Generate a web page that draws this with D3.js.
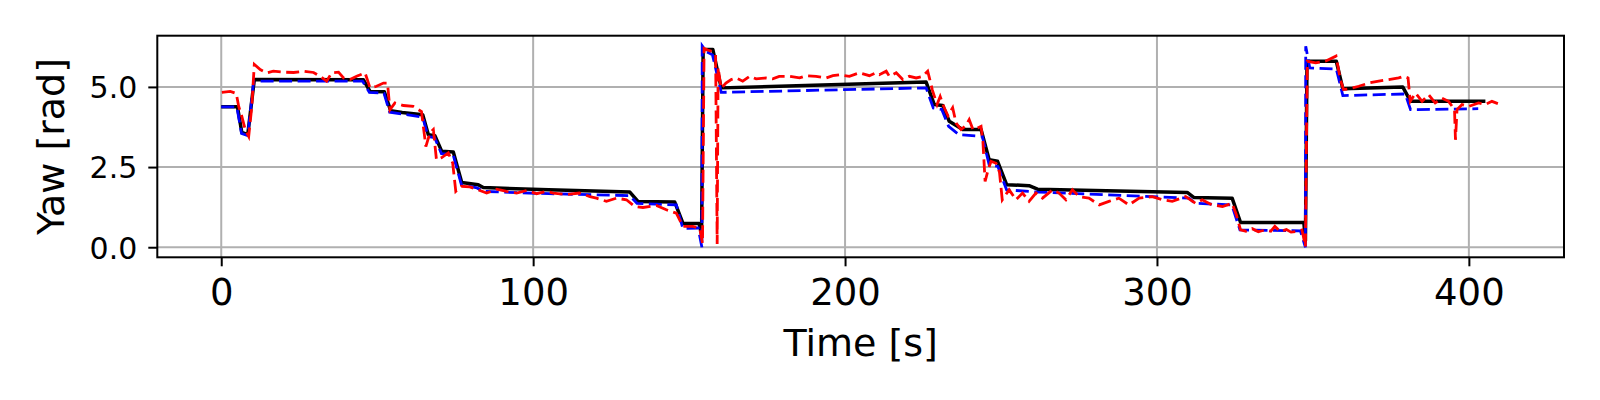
<!DOCTYPE html>
<html>
<head>
<meta charset="utf-8">
<script src="https://cdn.jsdelivr.net/npm/d3@7"></script>
<style>
  html, body { margin: 0; padding: 0; background: #fff; }
  svg { display: block; }
  text { font-family: "DejaVu Sans", sans-serif; fill: #000; }
</style>
</head>
<body>
<svg id="chart" width="1600" height="400"></svg>
<script>
// ---------- data (time [s], yaw [rad]) ----------
const xTicks = [0, 100, 200, 300, 400];
const yTicks = [0.0, 2.5, 5.0];
const xLabel = "Time [s]";
const yLabel = "Yaw [rad]";

// ground truth (black solid)
const truthT = [0,5.2,6.6,8.5,10.6,45.6,47.7,52.3,54.3,58,64.6,66.4,68.5,70.7,74.4,77.1,82.4,84,105,131,133.6,145.4,148,153.2,154.0,154.5,157.6,160.3,190,226,228.6,231.3,233.4,237.7,243.6,246.2,248.9,251.8,259,261.7,309.7,311.9,324.1,326.8,347.1,347.6,348.1,357.5,359.6,378.8,381.3,405.3];
const truthV = [4.38,4.38,3.58,3.51,5.23,5.22,4.86,4.85,4.26,4.2,4.13,3.51,3.48,2.99,2.97,2.02,1.95,1.86,1.79,1.72,1.43,1.41,0.75,0.74,0.40,6.17,6.17,4.97,5.05,5.15,4.45,4.42,3.93,3.67,3.67,2.73,2.68,1.95,1.92,1.81,1.71,1.55,1.53,0.77,0.77,0.2,5.8,5.8,4.94,5.0,4.55,4.55];

// estimate 1 (blue dashed)
const estT = [0,5.0,6.5,8.5,10.4,45.3,47.5,52.2,54.0,64.6,66.3,68.4,70.6,74.3,77.0,82,84,105,131,133.3,145.9,148,152.9,154.1,154.2,155.5,157.5,160.3,226,228.3,231,233.2,236.5,244,246.2,249,251.8,262,298.5,310.3,312.2,324.0,326.6,346,347.6,347.7,349,357.5,359.6,379.6,381.3,403];
const estV = [4.38,4.38,3.55,3.48,5.18,5.18,4.83,4.8,4.21,4.06,3.45,3.42,2.92,2.9,1.95,1.85,1.74,1.67,1.61,1.37,1.32,0.59,0.6,0.0,6.28,6.1,6.0,4.83,4.97,4.34,4.3,3.77,3.51,3.46,2.57,2.52,1.79,1.72,1.58,1.53,1.37,1.32,0.54,0.51,0.0,6.27,5.59,5.56,4.73,4.78,4.29,4.32];

// estimate 2 (red dashed, noisy)
const measT = [0.2,2.9,4.8,5.6,6.6,7.7,8.8,9.8,10.6,12.5,14.6,16.7,20,23.2,26.4,29.6,31.7,33.8,35.4,37.6,39.2,41.3,43.4,46.1,47.7,49.8,52.0,53.3,54.1,55.7,58.4,61.6,64.2,65.6,66.9,68.0,69.0,70.6,72.8,74.2,75.2,77.0,79.7,82.4,85.1,88.3,91.5,94.7,97.9,101.1,104.3,
  106.4,110.7,114.9,118.2,120.3,123.5,126.7,129.9,132.6,135.2,139.5,142.7,145.9,148.0,151.2,153.4,154.3,154.8,156,157.5,158.5,159.0,159.3,160.3,
  161.8,163.5,165.1,167.2,169.4,171.5,174.7,176.8,178.9,182.2,185.4,187.5,190.7,193.9,196.1,198.2,201.4,204.6,207.8,209.9,211.0,213.2,214.2,216.4,218.5,220.6,222.8,224.9,226.5,227.0,228.0,229.5,230.5,231.8,233,234.5,235.6,237.2,238.8,239.8,241,242.5,243.6,244.2,244.9,245.7,246.8,248.4,249.5,250.4,252.6,
  254.8,256.9,259.0,261.2,263.3,266.5,268.6,270.8,272.9,275.0,278.2,281.5,284.6,287.8,291.0,294.3,298.5,301.7,304.9,309.2,312.4,314.5,317.7,321.0,324.1,325.5,326.8,328.5,330.5,332.5,334.6,336.5,337.8,339.5,341.5,343,344.7,346.5,347.6,348.2,
  350.9,354.0,357.4,358.8,359.8,361.5,364.7,367.9,371.1,374.3,377.5,379.1,380.5,381.2,382.9,385.0,387.1,389.2,391.4,393.5,395.4,395.7,396.2,397.8,399.9,403.1,405.3,407.4,409.3];
const measV = [4.83,4.86,4.8,4.39,4.08,3.67,3.46,4.39,5.70,5.54,5.44,5.49,5.46,5.45,5.49,5.45,5.33,5.18,5.44,5.46,5.28,5.23,5.33,5.44,4.97,5.02,5.12,5.12,4.29,4.5,4.42,4.39,4.23,3.14,3.56,3.67,2.73,2.79,2.94,2.63,1.74,1.90,1.88,1.79,1.69,1.81,1.74,1.69,1.77,1.67,1.74,
  1.69,1.64,1.69,1.58,1.53,1.43,1.53,1.48,1.27,1.24,1.30,1.17,1.06,0.65,0.65,0.59,0.12,6.2,6.15,6.1,6.0,0.1,5.6,4.95,
  5.12,5.23,5.28,5.18,5.33,5.25,5.28,5.25,5.33,5.33,5.28,5.35,5.33,5.28,5.35,5.38,5.33,5.44,5.35,5.44,5.38,5.49,5.33,5.44,5.23,5.33,5.28,5.33,5.49,5.3,4.9,4.45,4.7,4.35,4.1,4.35,3.87,3.67,3.8,3.98,3.67,3.72,3.77,3.3,2.05,2.35,2.68,2.62,2.35,1.48,1.79,
  1.48,1.69,1.43,1.69,1.53,1.79,1.69,1.48,1.79,1.58,1.53,1.32,1.43,1.53,1.32,1.53,1.58,1.48,1.43,1.58,1.37,1.48,1.32,1.27,1.37,1.0,0.54,0.5,0.58,0.48,0.54,0.5,0.65,0.49,0.55,0.47,0.49,0.54,0.02,5.8,
  5.75,5.8,5.96,5.23,4.92,4.94,5.02,5.12,5.18,5.23,5.28,5.33,5.28,4.55,4.81,4.55,4.76,4.5,4.65,4.55,4.29,3.35,4.29,4.45,4.39,4.5,4.45,4.55,4.48];

// ---------- drawing ----------
const svg = d3.select("#chart");
const plot = { left: 157.3, right: 1564, top: 35.7, bottom: 257.3 };

const x = d3.scaleLinear().domain([-20.5, 430.5]).range([plot.left, plot.right]);
const y = d3.scaleLinear().domain([-0.3142, 6.5973]).range([plot.bottom, plot.top]);

// grid
const grid = svg.append("g");
grid.selectAll("line.gx").data(xTicks).enter().append("line")
  .attr("x1", d => x(d)).attr("x2", d => x(d))
  .attr("y1", plot.top).attr("y2", plot.bottom)
  .attr("stroke", "#b0b0b0").attr("stroke-width", 2);
grid.selectAll("line.gy").data(yTicks).enter().append("line")
  .attr("y1", d => y(d)).attr("y2", d => y(d))
  .attr("x1", plot.left).attr("x2", plot.right)
  .attr("stroke", "#b0b0b0").attr("stroke-width", 2);

// clip
svg.append("defs").append("clipPath").attr("id", "clip")
  .append("rect").attr("x", plot.left).attr("y", plot.top)
  .attr("width", plot.right - plot.left).attr("height", plot.bottom - plot.top);

const line = d3.line().x(d => x(d[0])).y(d => y(d[1]));
const zip = (a, b) => a.map((t, i) => [t, b[i]]);

const lines = svg.append("g").attr("clip-path", "url(#clip)");
lines.append("path").datum(zip(truthT, truthV)).attr("d", line)
  .attr("fill", "none").attr("stroke", "#000").attr("stroke-width", 3.5)
  .attr("stroke-linejoin", "round");
lines.append("path").datum(zip(estT, estV)).attr("d", line)
  .attr("fill", "none").attr("stroke", "#0000ff").attr("stroke-width", 2.8)
  .attr("stroke-dasharray", "13,5.5");
lines.append("path").datum(zip(measT, measV)).attr("d", line)
  .attr("fill", "none").attr("stroke", "#ff0000").attr("stroke-width", 2.8)
  .attr("stroke-dasharray", "13,5.5");

// axes
const xAxis = svg.append("g").attr("transform", `translate(0,${plot.bottom})`)
  .call(d3.axisBottom(x).tickValues(xTicks).tickSize(9).tickPadding(6).tickFormat(d3.format("d")));
xAxis.select(".domain").remove();
xAxis.selectAll(".tick line").attr("stroke", "#000").attr("stroke-width", 2);
xAxis.selectAll(".tick text").attr("font-size", 37).attr("font-family", "DejaVu Sans")
  .attr("dy", null).attr("y", 47.7);

const yAxis = svg.append("g").attr("transform", `translate(${plot.left},0)`)
  .call(d3.axisLeft(y).tickValues(yTicks).tickSize(9).tickPadding(11).tickFormat(d3.format(".1f")));
yAxis.select(".domain").remove();
yAxis.selectAll(".tick line").attr("stroke", "#000").attr("stroke-width", 2);
yAxis.selectAll(".tick text").attr("font-size", 30).attr("font-family", "DejaVu Sans")
  .attr("dy", "0.36em");

// frame
svg.append("rect").attr("x", plot.left).attr("y", plot.top)
  .attr("width", plot.right - plot.left).attr("height", plot.bottom - plot.top)
  .attr("fill", "none").attr("stroke", "#000").attr("stroke-width", 2);

// labels
svg.append("text").attr("x", (plot.left + plot.right) / 2).attr("y", 355.7)
  .attr("text-anchor", "middle").attr("font-size", 38).text(xLabel);
svg.append("text").attr("transform", `translate(64.4,${(plot.top + plot.bottom) / 2}) rotate(-90)`)
  .attr("text-anchor", "middle").attr("font-size", 38).text(yLabel);
</script>
</body>
</html>
